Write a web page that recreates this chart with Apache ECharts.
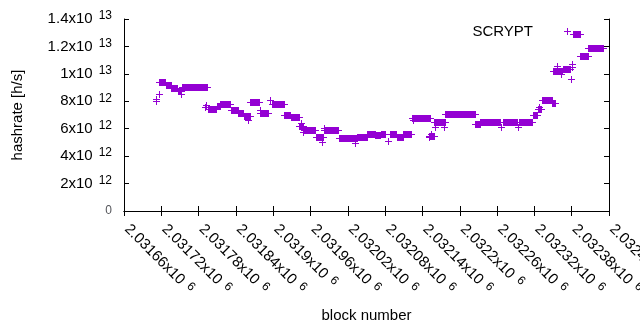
<!DOCTYPE html>
<html>
<head>
<meta charset="utf-8">
<script src="https://cdn.jsdelivr.net/npm/echarts@6/dist/echarts.min.js"></script>
<style>html,body{margin:0;padding:0;background:#fff;}#c{width:640px;height:330px;}</style>
</head>
<body>
<div id="c"></div>
<script>
// ---- data ----
const seriesName = 'SCRYPT';
// runs of consecutive blocks with (nearly) the same hashrate
const runStart = [2031717,2031727,2031736,2031747,2031754,2031795,2031809,2031815,2031832,2031844,2031853,2031863,2031879,2031898,2031918,2031928,2031942,2031949,2031968,2031981,2032005,2032035,2032051,2032064,2032073,2032088,2032099,2032109,2032123,2032151,2032159,2032177,2032225,2032233,2032270,2032296,2032317,2032326,2032332,2032349,2032350,2032366,2032382,2032394,2032407];
const runEnd   = [2031726,2031735,2031746,2031752,2031793,2031808,2031814,2031831,2031843,2031852,2031862,2031877,2031891,2031917,2031927,2031941,2031948,2031967,2031980,2032004,2032034,2032050,2032063,2032072,2032080,2032098,2032108,2032122,2032152,2032158,2032176,2032224,2032232,2032264,2032292,2032316,2032325,2032331,2032348,2032353,2032364,2032377,2032393,2032406,2032430];
const runHash  = [9.44e12,9.19e12,8.97e12,8.72e12,9.05e12,7.47e12,7.62e12,7.81e12,7.33e12,7.11e12,6.96e12,7.96e12,7.18e12,7.78e12,7.03e12,6.85e12,6.23e12,5.94e12,5.36e12,5.87e12,5.29e12,5.41e12,5.61e12,5.55e12,5.65e12,5.58e12,5.43e12,5.65e12,6.79e12,5.5e12,6.49e12,7.08e12,6.36e12,6.52e12,6.52e12,6.52e12,7.03e12,7.47e12,8.06e12,7.91e12,10.24e12,10.35e12,12.94e12,11.31e12,11.85e12];
// isolated blocks
const ptBlock = [2031711,2031712,2031716,2031751,2031790,2031792,2031860,2031878,2031894,2031944,2031948,2031978,2031981,2032032,2032085,2032124,2032150,2032153,2032160,2032174,2032266,2032293,2032327,2032357,2032363,2032379,2032380,2032381];
const ptHash  = [8.0e12,8.2e12,8.55e12,8.55e12,7.55e12,7.75e12,6.6e12,7.4e12,8.1e12,6.45e12,5.75e12,5.0e12,6.05e12,4.95e12,5.1e12,6.6e12,5.4e12,5.6e12,6.15e12,6.1e12,6.1e12,6.15e12,7.55e12,10.6e12,10.0e12,9.64e12,10.73e12,10.5e12];
const xMin = 2031660, xMax = 2032440, xStep = 60;
const yMin = 0, yMax = 1.4e13, yStep = 2e12;

// ---- chart ----
const COLOR = '#9400d3';
const FONT = '"Liberation Sans", Arial, sans-serif';
const PLUS = 'path://M0,3h7v1h-7zM3,0h1v7h-1z';

function sci(v) {
  if (v === 0) return '0';
  const e = Math.floor(Math.log10(Math.abs(v)) + 1e-9);
  const m = parseFloat((v / Math.pow(10, e)).toFixed(6));
  return '{m|' + m + 'x10}{s|' + e + '}';
}
const rich = {
  m: { fontSize: 15, fontFamily: FONT, color: '#000' },
  s: { fontSize: 12, fontFamily: FONT, color: '#000', padding: [0, 0, 6, 6] }
};
const richX = {
  m: { fontSize: 15, fontFamily: FONT, color: '#000', padding: [0, 0, 0, 4] },
  s: { fontSize: 12, fontFamily: FONT, color: '#000', padding: [0, 0, 6, 6] }
};

const data = runStart.map((s, i) => [s, runEnd[i], runHash[i]])
  .concat(ptBlock.map((b, i) => [b, b, ptHash[i]]));

function renderItem(params, api) {
  const s = api.coord([api.value(0), api.value(2)]);
  const e = api.coord([api.value(1), api.value(2)]);
  const cx = Math.round(s[0]), ex = Math.round(e[0]), cy = Math.round(s[1]);
  return {
    type: 'group',
    children: [
      { type: 'rect', shape: { x: cx, y: cy - 3, width: ex - cx + 1, height: 7 }, style: { fill: COLOR } },
      { type: 'rect', shape: { x: cx - 3, y: cy, width: ex - cx + 7, height: 1 }, style: { fill: COLOR } }
    ]
  };
}

const axisLine = { show: true, lineStyle: { color: '#000', width: 1 } };
const axisTick = { show: true, inside: true, length: 5, lineStyle: { color: '#000', width: 1 } };

const chart = echarts.init(document.getElementById('c'), null, { renderer: 'canvas' });
chart.setOption({
  animation: false,
  backgroundColor: '#fff',
  grid: { left: 124, right: 31, top: 19, bottom: 119, containLabel: false, outerBoundsMode: 'none' },
  legend: {
    data: [{ name: seriesName, icon: PLUS }],
    right: 69, top: 24, padding: 0, align: 'right',
    itemWidth: 7, itemHeight: 7,
    selectedMode: false,
    textStyle: { fontSize: 15, fontFamily: FONT, color: '#000', padding: [0, 26, 0, 0] }
  },
  xAxis: [{
    type: 'value', min: xMin, max: xMax, interval: xStep,
    position: 'bottom',
    axisLine: axisLine, axisTick: axisTick, splitLine: { show: false },
    axisLabel: { rotate: -45, margin: 13, interval: 0, formatter: sci, rich: richX, showMaxLabel: true, showMinLabel: true, hideOverlap: false },
    name: 'block number', nameLocation: 'middle', nameGap: 97,
    nameTextStyle: { fontSize: 15, fontFamily: FONT, color: '#000' }
  }, {
    type: 'value', min: xMin, max: xMax, interval: xStep,
    position: 'top',
    axisLine: axisLine, axisTick: axisTick, splitLine: { show: false },
    axisLabel: { show: false }
  }],
  yAxis: [{
    type: 'value', min: yMin, max: yMax, interval: yStep,
    position: 'left',
    axisLine: axisLine, axisTick: axisTick, splitLine: { show: false },
    axisLabel: { margin: 12, formatter: sci, rich: rich },
    name: 'hashrate [h/s]', nameLocation: 'middle', nameGap: 99,
    nameTextStyle: { fontSize: 15, fontFamily: FONT, color: '#000' }
  }, {
    type: 'value', min: yMin, max: yMax, interval: yStep,
    position: 'right',
    axisLine: axisLine, axisTick: axisTick, splitLine: { show: false },
    axisLabel: { show: false }
  }],
  series: [{
    name: seriesName,
    type: 'custom',
    xAxisIndex: 0, yAxisIndex: 0,
    renderItem: renderItem,
    encode: { x: [0, 1], y: 2 },
    itemStyle: { color: COLOR },
    data: data
  }]
});
</script>
</body>
</html>
